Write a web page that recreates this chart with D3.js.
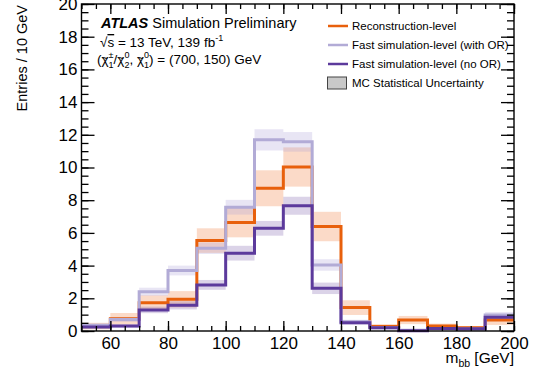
<!DOCTYPE html>
<html><head><meta charset="utf-8">
<script src="https://cdn.jsdelivr.net/npm/d3@7"></script>
<style>
body{margin:0;background:#fff;}
svg text{font-family:"Liberation Sans",Arial,Helvetica,sans-serif;fill:#000;}
</style></head>
<body><svg id="c" width="543" height="372"></svg>
<script>
// ---- data ----
const binEdges = [50,60,70,80,90,100,110,120,130,140,150,160,170,180,190,200];
const recoValues = [0.30,0.75,1.73,1.94,5.53,6.63,8.73,10.03,6.39,1.43,0.27,0.67,0.30,0.20,0.67];
const recoErrors = [0.20,0.35,0.45,0.50,0.75,0.90,1.10,1.20,0.90,0.45,0.15,0.25,0.15,0.10,0.30];
const withORValues = [0.35,0.70,2.40,3.70,5.06,7.57,11.69,11.57,4.04,0.57,0.20,0.05,0.15,0.12,0.98];
const withORErrors = [0.10,0.15,0.25,0.30,0.35,0.45,0.65,0.60,0.35,0.12,0.07,0.05,0.07,0.06,0.18];
const noORValues = [0.25,0.30,1.29,1.57,2.82,4.76,6.28,7.66,2.61,0.51,0.20,0.02,0.16,0.14,0.84];
const noORErrors = [0.10,0.10,0.20,0.25,0.30,0.45,0.45,0.55,0.35,0.12,0.07,0.03,0.06,0.06,0.18];
const xTickLabels = [60,80,100,120,140,160,180,200];
const yTickLabels = [0,2,4,6,8,10,12,14,16,18,20];
const legendLabels = ["Reconstruction-level","Fast simulation-level (with OR)","Fast simulation-level (no OR)","MC Statistical Uncertainty"];

const series = [
  {values:recoValues, errors:recoErrors, line:"#e8600c", band:"rgba(240,120,50,0.27)"},
  {values:withORValues, errors:withORErrors, line:"#b2abd6", band:"rgba(170,160,215,0.27)"},
  {values:noORValues, errors:noORErrors, line:"#5c3a9c", band:"rgba(110,80,165,0.25)"}
];

const svg = d3.select("#c");
const L=81.5, R=514, T=4, B=331;
const x = d3.scaleLinear().domain([50,200]).range([L,R]);
const y = d3.scaleLinear().domain([0,20]).range([B,T]);

const plot = svg.append("g");
// bands
series.forEach(s=>{
  plot.append("g").selectAll("rect").data(s.values).join("rect")
    .attr("x",(d,i)=>x(binEdges[i]))
    .attr("width",(d,i)=>x(binEdges[i+1])-x(binEdges[i]))
    .attr("y",(d,i)=>y(Math.min(20,d+s.errors[i])))
    .attr("height",(d,i)=>y(Math.max(0,d-s.errors[i]))-y(Math.min(20,d+s.errors[i])))
    .attr("fill",s.band);
});
// lines
series.forEach(s=>{
  const pts=[];
  s.values.forEach((v,i)=>{pts.push([binEdges[i],v]);pts.push([binEdges[i+1],v]);});
  plot.append("path").datum(pts)
    .attr("d",d3.line().x(d=>x(d[0])).y(d=>y(d[1])))
    .attr("fill","none").attr("stroke",s.line).attr("stroke-width",3);
});

// axes
const minorX = d3.range(50,200.1,5);
const minorY = d3.range(0,20.01,0.5);
function ax(gen, tr){ const g=svg.append("g").attr("transform",tr).call(gen); g.select(".domain").remove(); g.selectAll("line").attr("stroke","#000").attr("stroke-width",1.3); return g;}
// bottom
ax(d3.axisBottom(x).tickValues(minorX).tickSize(-5).tickFormat(""),`translate(0,${B})`);
const gxb = ax(d3.axisBottom(x).tickValues(xTickLabels).tickSize(-10).tickPadding(5).tickFormat(d3.format("d")),`translate(0,${B})`);
gxb.selectAll("text").attr("font-size",17).attr("dy","0.75em");
// top
ax(d3.axisTop(x).tickValues(minorX).tickSize(-5).tickFormat(""),`translate(0,${T})`);
ax(d3.axisTop(x).tickValues(xTickLabels).tickSize(-10).tickFormat(""),`translate(0,${T})`);
// left
ax(d3.axisLeft(y).tickValues(minorY).tickSize(-7).tickFormat(""),`translate(${L},0)`);
const gyl = ax(d3.axisLeft(y).tickValues(yTickLabels).tickSize(-13).tickPadding(4).tickFormat(d3.format("d")),`translate(${L},0)`);
gyl.selectAll("text").attr("font-size",17);
// right
ax(d3.axisRight(y).tickValues(minorY).tickSize(-7).tickFormat(""),`translate(${R},0)`);
ax(d3.axisRight(y).tickValues(yTickLabels).tickSize(-13).tickFormat(""),`translate(${R},0)`);

// frame
svg.append("rect").attr("x",L).attr("y",T).attr("width",R-L).attr("height",B-T)
  .attr("fill","none").attr("stroke","#000").attr("stroke-width",1.4);

// axis titles
svg.append("text").attr("transform","translate(27,5) rotate(-90)").attr("text-anchor","end")
  .attr("font-size",14.5).text("Entries / 10 GeV");
const xt = svg.append("text").attr("x",R).attr("y",363).attr("text-anchor","end").attr("font-size",15.5);
xt.append("tspan").text("m");
xt.append("tspan").attr("font-size",10.5).attr("dy",4).text("bb");
xt.append("tspan").attr("dy",-4).text(" [GeV]");

// ATLAS label
const t1 = svg.append("text").attr("x",101).attr("y",27.5).attr("font-size",14.5);
t1.append("tspan").attr("font-weight","bold").attr("font-style","italic").text("ATLAS");
t1.append("tspan").text(" Simulation Preliminary");
const t2 = svg.append("text").attr("x",100).attr("y",47).attr("font-size",13.5);
t2.append("tspan").text("\u221A");
t2.append("tspan").style("text-decoration","overline").text("s");
t2.append("tspan").text(" = 13 TeV, 139 fb");
t2.append("tspan").attr("font-size",9).attr("dy",-6).text("-1");
const t3 = svg.append("text").attr("x",97).attr("y",64).attr("font-size",13.5);
const chiSpans = [];
t3.append("tspan").text("(");
chiSpans.push(t3.append("tspan").text("\u03C7"));
t3.append("tspan").attr("font-size",9).attr("dy",-6).text("\u00B1");
t3.append("tspan").attr("font-size",9).attr("dx",-5).attr("dy",10).text("1");
t3.append("tspan").attr("dy",-4).text("/");
chiSpans.push(t3.append("tspan").text("\u03C7"));
t3.append("tspan").attr("font-size",9).attr("dy",-6).text("0");
t3.append("tspan").attr("font-size",9).attr("dx",-5).attr("dy",10).text("2");
t3.append("tspan").attr("dy",-4).text(", ");
chiSpans.push(t3.append("tspan").text("\u03C7"));
t3.append("tspan").attr("font-size",9).attr("dy",-6).text("0");
t3.append("tspan").attr("font-size",9).attr("dx",-5).attr("dy",10).text("1");
t3.append("tspan").attr("dy",-4).text(") = (700, 150) GeV");
// tildes over chi
chiSpans.forEach(sp=>{
  const bb = sp.node().getBBox();
  svg.append("text").attr("x",bb.x+bb.width/2).attr("y",bb.y+10).attr("text-anchor","middle")
    .attr("font-size",11).text("~");
});

// legend
const legY = [26,45,64,83];
const lg = svg.append("g");
series.forEach((s,i)=>{
  lg.append("line").attr("x1",328).attr("x2",348).attr("y1",legY[i]).attr("y2",legY[i])
    .attr("stroke",s.line).attr("stroke-width",2.5);
});
lg.append("rect").attr("x",327.5).attr("y",77).attr("width",19).attr("height",12)
  .attr("fill","#c9c9c9").attr("stroke","#444").attr("stroke-width",1);
legendLabels.forEach((t,i)=>{
  lg.append("text").attr("x",352).attr("y",legY[i]+4.2).attr("font-size",11.5).text(t);
});
</script></body></html>
